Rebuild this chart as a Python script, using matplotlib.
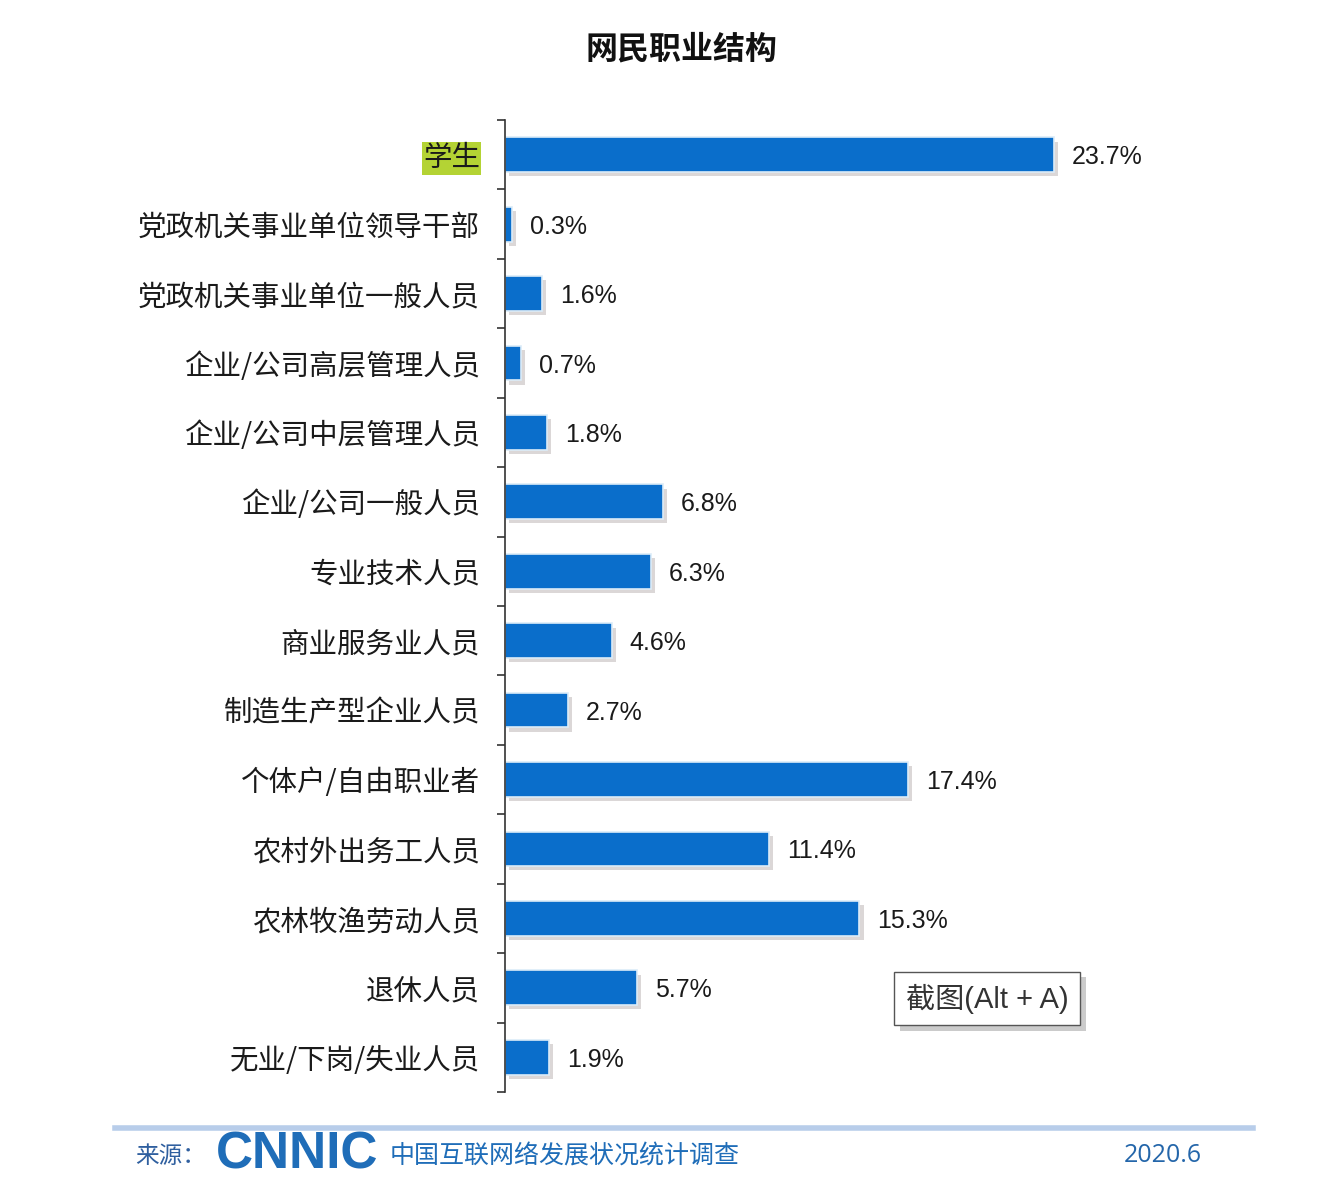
import matplotlib.pyplot as plt
import matplotlib.patheffects as pe
import numpy as np

# data
categories = ["学生", "党政机关事业单位领导干部", "党政机关事业单位一般人员", "企业/公司高层管理人员",
              "企业/公司中层管理人员", "企业/公司一般人员", "专业技术人员", "商业服务业人员",
              "制造生产型企业人员", "个体户/自由职业者", "农村外出务工人员", "农林牧渔劳动人员",
              "退休人员", "无业/下岗/失业人员"]
values = [23.7, 0.3, 1.6, 0.7, 1.8, 6.8, 6.3, 4.6, 2.7, 17.4, 11.4, 15.3, 5.7, 1.9]

cjk = ['Noto Sans CJK SC', 'DejaVu Sans']
num = ['Liberation Sans', 'Noto Sans CJK SC']
plt.rcParams['font.family'] = cjk

fig = plt.figure(figsize=(13.24, 11.86), dpi=100)
fig.patch.set_facecolor('white')

ax = fig.add_axes([0.3814, 0.0793, 0.56, 0.8195])
ax.patch.set_alpha(0)
y = np.arange(len(categories))
bars = ax.barh(y, values, height=0.5, color='#0A6ECB', edgecolor='#dcecf8', linewidth=1.2)
for b in bars:
    b.set_path_effects([pe.SimplePatchShadow(offset=(3, -3), shadow_rgbFace='#b8b0b0', alpha=0.5), pe.Normal()])

ax.set_ylim(len(categories) - 0.5, -0.5)
ax.set_xlim(0, 32)
ax.set_yticks(y)
ax.set_yticklabels(categories, fontsize=20.5, color='#1a1a1a')
ax.tick_params(axis='y', which='major', length=0, pad=18)
ax.set_yticks(np.arange(-0.5, len(categories), 1), minor=True)
ax.tick_params(axis='y', which='minor', length=6, width=1.2, color='#333333')
ax.set_xticks([])
for s in ['top', 'right', 'bottom']:
    ax.spines[s].set_visible(False)
ax.spines['left'].set_color('#333333')
ax.spines['left'].set_linewidth(1.2)

lab = ax.get_yticklabels()[0]
lab.set_bbox(dict(facecolor='#B4D334', edgecolor='none', pad=1))

for yi, v in zip(y, values):
    ax.annotate(f"{v}%", (v, yi), xytext=(13, 0), textcoords='offset points',
                va='center_baseline', ha='left', fontsize=18, family=num, color='#1a1a1a')

fig.text(0.515, 0.958, "网民职业结构", fontsize=23, fontweight='bold', ha='center', va='center', color='#111111')

# screenshot box
fig.text(0.7455, 0.158, "截图(Alt + A)", fontsize=21, family=['Liberation Sans', 'Noto Sans CJK SC'],
         ha='center', va='center', color='#333333',
         bbox=dict(facecolor='white', edgecolor='#555555', boxstyle='square,pad=0.4',
                   path_effects=[pe.SimplePatchShadow(offset=(4, -4), shadow_rgbFace='#999999', alpha=0.5),
                                 pe.Normal()]))

# footer
fig.add_artist(plt.Line2D([0.087, 0.946], [0.049, 0.049], color='#B8CDEA', linewidth=4))
fig.text(0.102, 0.025, "来源：", fontsize=17, color='#2F5F9F', ha='left', va='center')
fig.text(0.163, 0.026, "CNNIC", fontsize=37, fontweight='bold', color='#1F6DB8', family=num,
         ha='left', va='center')
fig.text(0.294, 0.025, "中国互联网络发展状况统计调查", fontsize=18, color='#1F6DB8', ha='left', va='center')
fig.text(0.908, 0.026, "2020.6", fontsize=18, color='#2466AA', ha='right', va='center', family=['Open Sans'])

fig.savefig('out.png', dpi=100)
